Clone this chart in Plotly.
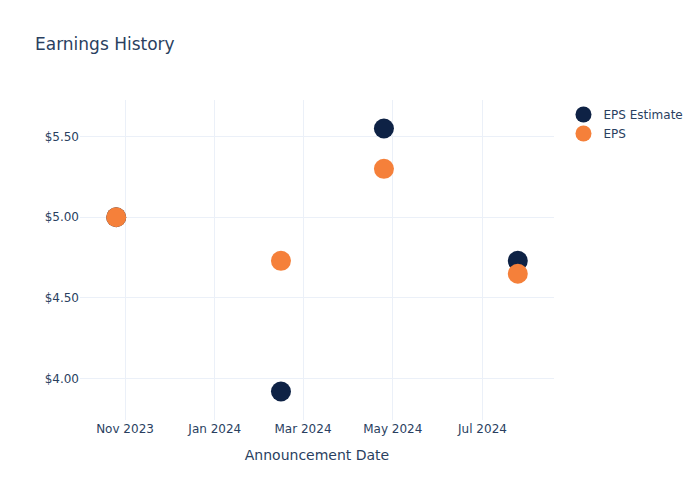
import plotly.graph_objects as go

dates = ["2023-10-26", "2024-02-15", "2024-04-25", "2024-07-25"]
eps_estimate = [5.00, 3.92, 5.55, 4.73]
eps_actual = [5.00, 4.73, 5.30, 4.65]

fig = go.Figure()
fig.add_trace(go.Scatter(x=dates, y=eps_estimate, mode="markers", name="EPS Estimate",
                         marker=dict(size=20, color="#0e2245")))
fig.add_trace(go.Scatter(x=dates, y=eps_actual, mode="markers", name="EPS",
                         marker=dict(size=20, color="#f5803a")))
fig.update_layout(
    template="plotly_white",
    width=700, height=500,
    font=dict(family="DejaVu Sans"),
    title=dict(text="Earnings History"),
    xaxis=dict(title="Announcement Date"),
    yaxis=dict(tickprefix="$", tickformat=".2f"),
)
fig.write_html("out.html")
